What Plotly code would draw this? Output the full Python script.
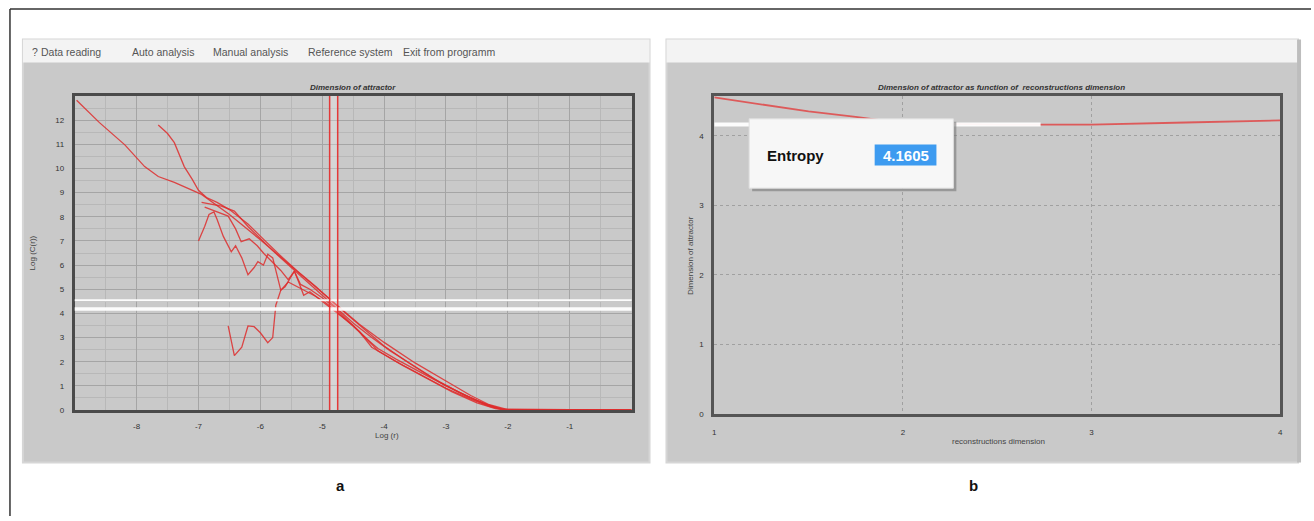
import plotly.graph_objects as go

W, H = 1314, 521

# ---------------- data ----------------
menu_items = ["?", "Data reading", "Auto analysis", "Manual analysis", "Reference system", "Exit from programm"]
menu_x_px = [28, 37, 128, 210, 305, 401]

left_xticks = [-8, -7, -6, -5, -4, -3, -2, -1]
left_yticks = list(range(0, 13))

s1_x = [-8.97, -8.6, -8.19, -7.87, -7.65, -7.39, -6.95, -6.5, -6.0, -5.5, -5.0, -4.75, -4.4, -4.0, -3.5, -3.0, -2.6, -2.3, -2.0, -1.5, 0.0]
s1_y = [12.83, 11.9, 10.98, 10.08, 9.67, 9.43, 8.93, 8.1, 7.05, 5.95, 4.85, 4.3, 3.55, 2.8, 1.95, 1.2, 0.6, 0.22, 0.02, 0.0, 0.0]

s2_x = [-7.65, -7.5, -7.39, -7.3, -7.23, -7.1, -7.0, -6.87, -6.7, -6.5, -6.2, -6.0, -5.7, -5.4, -5.1, -4.8, -4.6, -4.3, -4.0, -3.6, -3.2, -2.8, -2.5, -2.2, -2.0, 0.0]
s2_y = [11.8, 11.45, 11.07, 10.55, 10.08, 9.55, 9.1, 8.8, 8.6, 8.3, 7.7, 7.2, 6.45, 5.75, 5.1, 4.4, 3.95, 3.3, 2.65, 1.95, 1.3, 0.75, 0.4, 0.1, 0.0, 0.0]

s3_x = [-7.0, -6.9, -6.83, -6.75, -6.7, -6.6, -6.47, -6.4, -6.3, -6.2, -6.1, -6.04, -5.95, -5.88, -5.8, -5.67, -5.6, -5.45, -5.38, -5.3, -5.2, -5.05, -4.9, -4.7, -4.5, -4.3, -4.1, -3.8, -3.4, -3.0, -2.6, -2.3, -2.1, 0.0]
s3_y = [7.0, 7.6, 8.1, 8.2, 7.9, 7.2, 6.55, 6.8, 6.3, 5.6, 5.9, 6.14, 6.0, 6.45, 6.3, 4.96, 5.1, 5.75, 5.3, 4.75, 4.9, 4.6, 4.3, 3.9, 3.5, 3.0, 2.45, 2.0, 1.45, 0.9, 0.45, 0.15, 0.02, 0.0]

s4_x = [-6.52, -6.47, -6.42, -6.3, -6.2, -6.1, -6.0, -5.88, -5.8, -5.75, -5.67, -5.55, -5.4, -5.25, -5.1, -4.95, -4.8, -4.6, -4.4, -4.2, -4.0, -3.7, -3.3, -2.9, -2.5, -2.2, -2.0, 0.0]
s4_y = [3.48, 2.9, 2.25, 2.6, 3.48, 3.45, 3.2, 2.79, 3.0, 4.34, 4.96, 5.3, 5.1, 4.9, 4.7, 4.45, 4.15, 3.7, 3.25, 2.6, 2.3, 1.85, 1.3, 0.75, 0.3, 0.06, 0.0, 0.0]

s5_x = [-6.9, -6.74, -6.52, -6.4, -6.31, -6.18, -6.05, -5.94, -5.8, -5.67, -5.55, -5.45, -5.35, -5.2, -5.0, -4.8, -4.6, -4.35, -4.1, -3.8, -3.4, -3.0, -2.6, -2.3, -2.05, 0.0]
s5_y = [8.4, 8.24, 8.03, 7.5, 6.97, 7.09, 6.8, 6.47, 6.1, 5.78, 5.4, 5.75, 5.2, 5.0, 4.65, 4.25, 3.75, 3.1, 2.55, 2.1, 1.55, 1.0, 0.5, 0.18, 0.02, 0.0]

s6_x = [-6.95, -6.63, -6.42, -6.2, -6.0, -5.8, -5.5, -5.2, -4.9, -4.7, -4.5, -4.2, -3.9, -3.5, -3.1, -2.7, -2.4, -2.1, 0.0]
s6_y = [8.6, 8.44, 8.24, 7.6, 7.1, 6.6, 5.9, 5.2, 4.5, 4.05, 3.6, 3.0, 2.45, 1.8, 1.15, 0.62, 0.28, 0.04, 0.0]

left_series = [(s1_x, s1_y), (s2_x, s2_y), (s3_x, s3_y), (s4_x, s4_y), (s5_x, s5_y), (s6_x, s6_y)]

cursor_x = [-4.88, -4.75]
white_levels = [4.55, 4.18]

right_x = [1.0, 1.25, 1.5, 1.75, 2.0, 2.5, 2.75, 3.0, 3.5, 4.0]
right_y = [4.55, 4.45, 4.35, 4.27, 4.18, 4.16, 4.155, 4.16, 4.19, 4.22]
right_xticks = [1, 2, 3, 4]
right_yticks = [0, 1, 2, 3, 4]
entropy_value = 4.1605

# ---------------- helpers ----------------
def px(x):
    return x / W

def py(y):
    return 1 - y / H

FONT = "Liberation Sans, Arial, sans-serif"
RED = "rgba(222,45,45,0.85)"
PANEL = "#c9c9c9"
PLOTBG = "#c6c6c6"

fig = go.Figure()

for sx, sy in left_series:
    fig.add_trace(go.Scatter(x=sx, y=sy, mode="lines", line=dict(color=RED, width=1.3),
                             xaxis="x", yaxis="y", showlegend=False, hoverinfo="skip"))

fig.add_trace(go.Scatter(x=right_x, y=right_y, mode="lines", line=dict(color="rgba(225,70,70,0.85)", width=1.8),
                         xaxis="x2", yaxis="y2", showlegend=False, hoverinfo="skip"))

shapes = []
# outer frame lines
shapes.append(dict(type="line", xref="paper", yref="paper", x0=px(8), x1=1, y0=py(9), y1=py(9), line=dict(color="#333", width=1.5)))
shapes.append(dict(type="line", xref="paper", yref="paper", x0=px(8), x1=px(8), y0=py(9), y1=0, line=dict(color="#333", width=1.5)))
# panels
for x0, x1 in [(21, 650), (667, 1301)]:
    shapes.append(dict(type="rect", xref="paper", yref="paper", x0=px(x0), x1=px(x1), y0=py(467), y1=py(40),
                       fillcolor=PANEL, line=dict(color="#d6d6d6", width=2), layer="below"))
    shapes.append(dict(type="rect", xref="paper", yref="paper", x0=px(x0), x1=px(x1), y0=py(63), y1=py(40),
                       fillcolor="#f3f3f3", line=dict(width=0), layer="below"))
shapes.append(dict(type="rect", xref="paper", yref="paper", x0=px(1300), x1=px(1304), y0=py(467), y1=py(40),
                   fillcolor="#bdbdbd", line=dict(width=0), layer="below"))

# left white horizontal lines
for lv, wd in zip(white_levels, [2, 3.5]):
    shapes.append(dict(type="line", xref="x domain", yref="y", x0=0, x1=1, y0=lv, y1=lv,
                       line=dict(color="rgba(255,255,255,0.95)", width=wd), layer="above"))
# cursor band and lines
shapes.append(dict(type="rect", xref="x", yref="y domain", x0=cursor_x[0], x1=cursor_x[1], y0=0, y1=1,
                   fillcolor="rgba(255,255,255,0.25)", line=dict(width=0), layer="above"))
for cx in cursor_x:
    shapes.append(dict(type="line", xref="x", yref="y domain", x0=cx, x1=cx, y0=0, y1=1,
                       line=dict(color="rgba(230,40,40,0.9)", width=1.5), layer="above"))
# right white line at entropy level
shapes.append(dict(type="line", xref="x2", yref="y2", x0=1, x1=2.73, y0=entropy_value, y1=entropy_value,
                   line=dict(color="rgba(255,255,255,0.95)", width=4), layer="above"))
# popup shadow + box
shapes.append(dict(type="rect", xref="paper", yref="paper", x0=px(753), x1=px(958), y0=py(193), y1=py(123),
                   fillcolor="rgba(120,120,120,0.6)", line=dict(width=0), layer="above"))
shapes.append(dict(type="rect", xref="paper", yref="paper", x0=px(750), x1=px(955), y0=py(190), y1=py(120),
                   fillcolor="#f7f7f7", line=dict(color="#e0e0e0", width=1), layer="above"))
shapes.append(dict(type="rect", xref="paper", yref="paper", x0=px(876), x1=px(938), y0=py(167), y1=py(146),
                   fillcolor="#3d9bf0", line=dict(width=0), layer="above"))

def note(text, x, y, size=8, color="#444", xanchor="center", angle=0):
    return dict(text=text, x=px(x), y=py(y), xref="paper", yref="paper", xanchor=xanchor, yanchor="middle",
                showarrow=False, textangle=angle, font=dict(family=FONT, size=size, color=color))

ann = []
for t, xx in zip(menu_items, menu_x_px):
    ann.append(note(t, xx, 52, size=10.5, color="#555", xanchor="left"))
ann.append(note("<b><i>Dimension of attractor</i></b>", 352, 88, color="#333"))
ann.append(note("<b><i>Dimension of attractor as function of  reconstructions dimension</i></b>", 1003, 88, color="#333"))
ann.append(note("Log (r)", 386, 440))
ann.append(note("Log (C(r))", 31, 255, angle=-90))
ann.append(note("reconstructions dimension", 1000, 446))
ann.append(note("Dimension of attractor", 691, 258, angle=-90))
ann.append(note("<b>Entropy</b>", 766, 157, size=15, color="#111", xanchor="left"))
ann.append(note("<b>%.4f</b>" % entropy_value, 907, 157, size=15, color="white"))
ann.append(note("<b>a</b>", 340, 490, size=15, color="#111"))
ann.append(note("<b>b</b>", 975, 490, size=15, color="#111"))

axfont = dict(family=FONT, size=8, color="#333")
fig.update_layout(
    width=W, height=H, margin=dict(l=0, r=0, t=0, b=0),
    paper_bgcolor="white", plot_bgcolor=PLOTBG,
    shapes=shapes, annotations=ann,
    xaxis=dict(domain=[px(73), px(632)], range=[-9, 0], tickvals=left_xticks,
               ticktext=[str(v) for v in left_xticks], anchor="y",
               showline=True, mirror=True, linecolor="#4a4a4a", linewidth=3,
               showgrid=True, gridcolor="#a5a5a5", gridwidth=1,
               minor=dict(dtick=0.5, showgrid=True, gridcolor="#b8b8b8", gridwidth=1),
               zeroline=False, tickfont=axfont, ticks="", ticklabelstandoff=6),
    yaxis=dict(domain=[py(414), py(97)], range=[0, 13], tickvals=left_yticks,
               ticktext=[str(v) for v in left_yticks], anchor="x",
               showline=True, mirror=True, linecolor="#4a4a4a", linewidth=3,
               showgrid=True, gridcolor="#a5a5a5", gridwidth=1,
               minor=dict(dtick=0.5, showgrid=True, gridcolor="#b8b8b8", gridwidth=1),
               zeroline=False, tickfont=axfont, ticks="", ticklabelstandoff=6),
    xaxis2=dict(domain=[px(715), px(1283)], range=[1, 4], tickvals=right_xticks, anchor="y2",
                showline=True, mirror=True, linecolor="#555", linewidth=3,
                showgrid=True, gridcolor="#a0a0a0", griddash="dot", gridwidth=1,
                zeroline=False, tickfont=axfont, ticks="", ticklabelstandoff=8),
    yaxis2=dict(domain=[py(418), py(97)], range=[0, 4.57], tickvals=right_yticks, anchor="x2",
                showline=True, mirror=True, linecolor="#555", linewidth=3,
                showgrid=True, gridcolor="#a0a0a0", griddash="dot", gridwidth=1,
                zeroline=False, tickfont=axfont, ticks="", ticklabelstandoff=6),
)

fig.write_html("out.html", config={"displayModeBar": False},
               post_script="document.body.style.margin='0';document.body.style.padding='0';")
